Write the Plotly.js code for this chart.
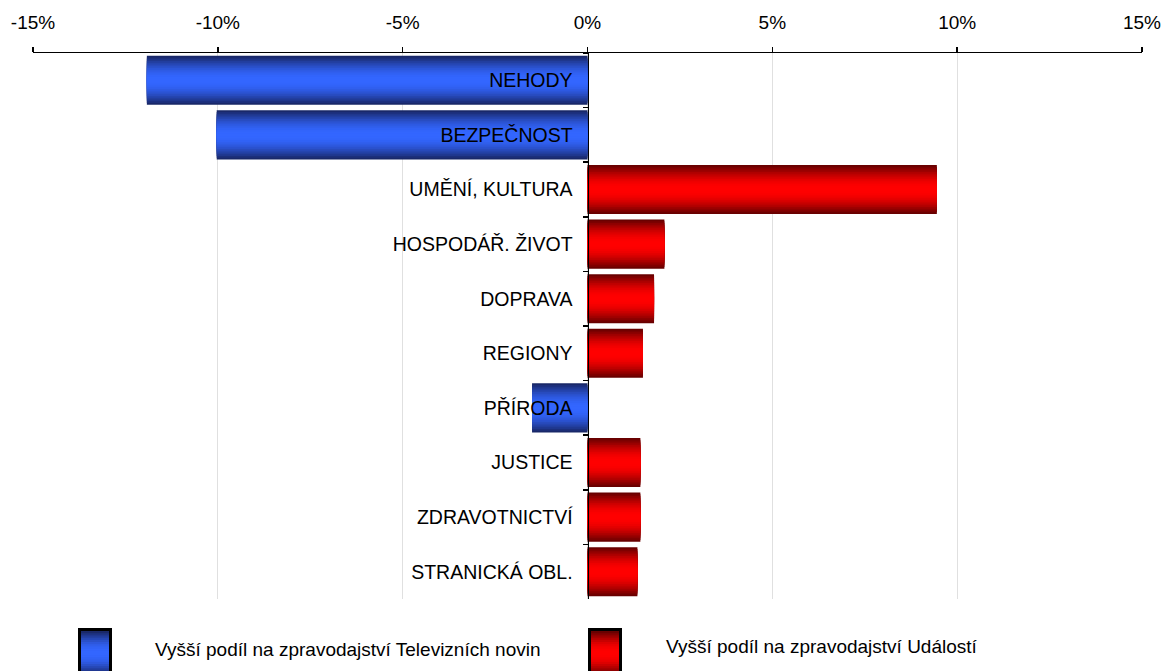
<!DOCTYPE html>
<html><head><meta charset="utf-8">
<script src="https://cdn.plot.ly/plotly-3.0.1.min.js"></script>
<style>html,body{margin:0;padding:0;background:#fff}#chart{width:1162px;height:671px}</style>
</head><body><div id="chart"></div>
<script>
const categories = ["NEHODY","BEZPEČNOST","UMĚNÍ, KULTURA","HOSPODÁŘ. ŽIVOT","DOPRAVA","REGIONY","PŘÍRODA","JUSTICE","ZDRAVOTNICTVÍ","STRANICKÁ OBL."];
const values = [-11.92, -10.03, 9.45, 2.08, 1.8, 1.5, -1.5, 1.43, 1.43, 1.35];
const xTickVals = [-15, -10, -5, 0, 5, 10, 15];
const xTickText = ["-15%", "-10%", "-5%", "0%", "5%", "10%", "15%"];
const legendLabels = ["Vyšší podíl na zpravodajství Televizních novin", "Vyšší podíl na zpravodajství Událostí"];

const FONT = "Arial, 'Liberation Sans', sans-serif";
const blueEdge = [25, 40, 105], blueCenter = [51, 102, 255];
const redEdge = [105, 0, 0], redCenter = [255, 0, 0];
function mix(a, b, t) { return 'rgb(' + a.map((v, i) => Math.round(v + (b[i] - v) * t)).join(',') + ')'; }

const L = 14;
const traces = [];
for (let i = 0; i < L; i++) {
  const t = Math.sin((i / (L - 1)) * Math.PI / 2);
  const w = 0.9 * (1 - i / L);
  traces.push({
    type: 'bar', orientation: 'h', y: categories, x: values,
    width: w,
    marker: { color: values.map(v => v < 0 ? mix(blueEdge, blueCenter, t) : mix(redEdge, redCenter, t)), line: { width: 0 } },
    hoverinfo: 'skip', showlegend: false
  });
}

// plot area in pixels
const PL = 33, PR = 1142, PT = 53, PB = 599;
const px = x => (x - PL) / (PR - PL);
const py = y => (PB - y) / (PB - PT);

const shapes = [];
const annotations = [];
const legendBoxes = [
  { x0: 78, x1: 112, y0: 628, y1: 676, edge: blueEdge, center: blueCenter, tx: 153, ty: 649 },
  { x0: 588, x1: 622, y0: 628, y1: 676, edge: redEdge, center: redCenter, tx: 664, ty: 646 }
];
legendBoxes.forEach((b, k) => {
  shapes.push({ type: 'rect', xref: 'paper', yref: 'paper', x0: px(b.x0), x1: px(b.x1), y0: py(b.y0), y1: py(b.y1), fillcolor: '#000', line: { width: 0 }, layer: 'above' });
  const n = 10, h = (b.y1 - b.y0 - 4);
  for (let i = 0; i < n; i++) {
    const t = Math.sin((i / (n - 1)) * Math.PI / 2);
    const d = (h / 2) * (i / n);
    shapes.push({ type: 'rect', xref: 'paper', yref: 'paper', x0: px(b.x0 + 3), x1: px(b.x1 - 3), y0: py(b.y0 + 3 + d), y1: py(b.y0 + 3 + h - d), fillcolor: mix(b.edge, b.center, t), line: { width: 0 }, layer: 'above' });
  }
  annotations.push({ xref: 'paper', yref: 'paper', x: px(b.tx), y: py(b.ty), xanchor: 'left', yanchor: 'middle', showarrow: false, text: legendLabels[k], font: { family: FONT, size: 19, color: '#000' } });
});

const layout = {
  width: 1162, height: 671,
  margin: { l: PL, r: 1162 - PR, t: PT, b: 671 - PB, pad: 0 },
  paper_bgcolor: '#fff', plot_bgcolor: '#fff',
  barmode: 'overlay', showlegend: false,
  font: { family: FONT, size: 19, color: '#000' },
  xaxis: {
    side: 'top', range: [-15, 15], tickvals: xTickVals, ticktext: xTickText,
    showgrid: true, gridcolor: '#e0e0e0', gridwidth: 1, zeroline: false,
    showline: true, linecolor: '#000', linewidth: 1.5,
    ticks: 'outside', ticklen: 5, tickcolor: '#000', tickwidth: 1.5,
    tickfont: { family: FONT, size: 19, color: '#000' }, ticklabelstandoff: 10, fixedrange: true
  },
  yaxis: {
    type: 'category', categoryorder: 'array', categoryarray: categories,
    range: [9.5, -0.5], anchor: 'free', position: 0.5,
    showline: true, linecolor: '#000', linewidth: 1.5,
    ticks: 'outside', tickson: 'boundaries', ticklen: 5, tickcolor: '#000', tickwidth: 1.5,
    showgrid: false, zeroline: false,
    tickfont: { family: FONT, size: 19.5, color: '#000' }, ticklabelstandoff: 11, fixedrange: true
  },
  shapes: shapes, annotations: annotations
};
Plotly.newPlot('chart', traces, layout, { displayModeBar: false, staticPlot: true });
</script></body></html>
